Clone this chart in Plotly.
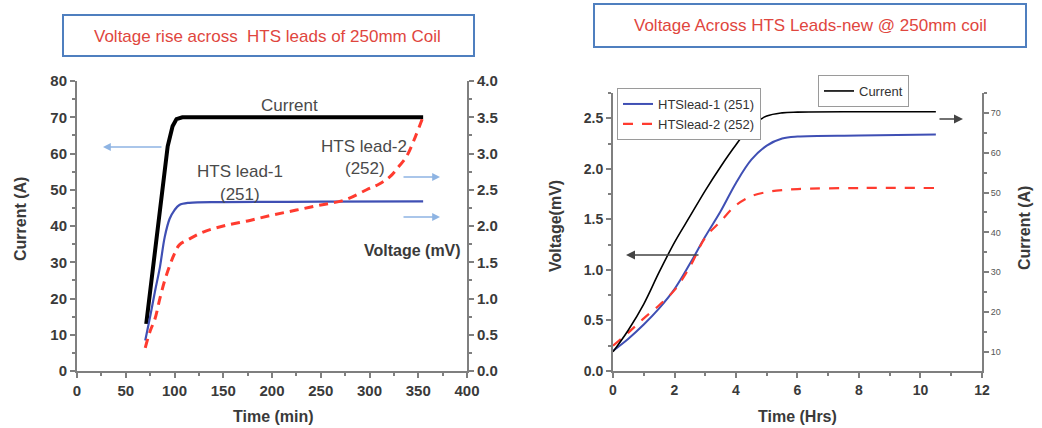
import plotly.graph_objects as go

# ---------------- Left chart data (Time in min) ----------------
left_cur_t = [71, 78, 86, 93, 98, 102, 108, 150, 250, 355]
left_cur_i = [13, 28, 45, 62, 67.5, 69.5, 70, 70, 70, 70]

left_l1_t = [70, 75, 80, 85, 90, 95, 100, 105, 115, 150, 250, 355]
left_l1_v = [0.42, 0.75, 1.1, 1.43, 1.85, 2.1, 2.22, 2.29, 2.32, 2.33, 2.335, 2.34]

left_l2_t = [70, 75, 80, 85, 90, 95, 100, 105, 115, 130, 150, 175, 200, 225, 250,
             275, 297, 310, 321, 330, 338, 347, 355]
left_l2_v = [0.32, 0.55, 0.72, 1.0, 1.25, 1.45, 1.62, 1.74, 1.82, 1.92, 2.0, 2.07, 2.15,
             2.22, 2.29, 2.36, 2.5, 2.58, 2.68, 2.82, 2.96, 3.23, 3.51]

# ---------------- Right chart data (Time in hours) ----------------
right_t = [0, 0.5, 1.0, 1.5, 2.0, 2.5, 3.0, 3.5, 4.0, 4.5, 5.0, 5.5, 6.0, 8.0, 10.5]
right_cur = [10, 15.5, 22, 30, 37.5, 44, 50.5, 56.5, 62, 66.8, 69.2, 70, 70.2, 70.3, 70.3]
right_l1 = [0.20, 0.32, 0.46, 0.62, 0.81, 1.06, 1.33, 1.58, 1.86, 2.09, 2.23, 2.30, 2.32, 2.33, 2.34]
right_l2 = [0.25, 0.38, 0.52, 0.65, 0.80, 1.03, 1.32, 1.48, 1.64, 1.73, 1.77, 1.79, 1.80, 1.81, 1.81]

left_x_ticks = [0, 50, 100, 150, 200, 250, 300, 350, 400]
left_y_ticks = [0, 10, 20, 30, 40, 50, 60, 70, 80]
left_y2_ticks = [0, 0.5, 1.0, 1.5, 2.0, 2.5, 3.0, 3.5, 4.0]
right_x_ticks = [0, 2, 4, 6, 8, 10, 12]
right_y_ticks = [0, 0.5, 1.0, 1.5, 2.0, 2.5]
right_y2_ticks = [10, 20, 30, 40, 50, 60, 70]

BLUE = "#3f4fb4"
RED = "#ff3b2f"
AXC = "#7f7f7f"
TXT = "#3a3a3a"
FONT = "Liberation Sans"

fig = go.Figure()

# Left chart traces
fig.add_trace(go.Scatter(x=left_cur_t, y=left_cur_i, mode="lines", line=dict(color="black", width=4),
                         xaxis="x", yaxis="y", showlegend=False, name="Current"))
fig.add_trace(go.Scatter(x=left_l1_t, y=left_l1_v, mode="lines", line=dict(color=BLUE, width=2.2, shape="spline"),
                         xaxis="x", yaxis="y2", showlegend=False, name="HTS lead-1"))
fig.add_trace(go.Scatter(x=left_l2_t, y=left_l2_v, mode="lines",
                         line=dict(color=RED, width=3, dash="9px,6px", shape="spline"),
                         xaxis="x", yaxis="y2", showlegend=False, name="HTS lead-2"))

# Right chart traces
fig.add_trace(go.Scatter(x=right_t, y=right_l1, mode="lines", line=dict(color=BLUE, width=2, shape="spline"),
                         xaxis="x2", yaxis="y3", name="HTSlead-1 (251)", legend="legend2"))
fig.add_trace(go.Scatter(x=right_t, y=right_l2, mode="lines",
                         line=dict(color=RED, width=2.2, dash="10px,9px", shape="spline"),
                         xaxis="x2", yaxis="y3", name="HTSlead-2 (252)", legend="legend2"))
fig.add_trace(go.Scatter(x=right_t, y=right_cur, mode="lines", line=dict(color="black", width=1.6, shape="spline"),
                         xaxis="x2", yaxis="y4", name="Current", legend="legend"))

common = dict(showline=True, linecolor=AXC, linewidth=2, ticks="outside", tickcolor=AXC,
              ticklen=5, tickwidth=1.5, showgrid=False, zeroline=False)

tick_left = dict(family=FONT, size=15, color=TXT, weight="bold")
tick_right = dict(family=FONT, size=14, color=TXT, weight="bold")
axtitle = dict(family=FONT, size=16, color=TXT, weight="bold")

fig.update_layout(
    width=1042, height=428,
    margin=dict(l=0, r=0, t=0, b=0, autoexpand=False),
    paper_bgcolor="white", plot_bgcolor="white",
    xaxis=dict(domain=[0.0739, 0.4482], range=[0, 400], tickvals=left_x_ticks, anchor="y",
               tickfont=tick_left, minor=dict(ticks="outside", dtick=25, ticklen=3, tickcolor=AXC), **common),
    yaxis=dict(domain=[0.1332, 0.8107], range=[0, 80], tickvals=left_y_ticks, anchor="x",
               tickfont=tick_left, minor=dict(ticks="outside", dtick=5, ticklen=3, tickcolor=AXC), **common),
    yaxis2=dict(range=[0, 4], tickvals=left_y2_ticks, tickformat=".1f", overlaying="y", side="right",
                anchor="x", tickfont=tick_left,
                minor=dict(ticks="outside", dtick=0.25, ticklen=3, tickcolor=AXC), **common),
    xaxis2=dict(domain=[0.5883, 0.9424], range=[0, 12], tickvals=right_x_ticks, anchor="y3",
                tickfont=tick_right, minor=dict(ticks="outside", dtick=1, ticklen=3, tickcolor=AXC), **common),
    yaxis3=dict(domain=[0.1332, 0.7827], range=[0, 2.75], tickvals=right_y_ticks, tickformat=".1f",
                anchor="x2", tickfont=tick_right,
                minor=dict(ticks="outside", dtick=0.25, ticklen=3, tickcolor=AXC), **common),
    yaxis4=dict(range=[5.2, 75], tickvals=right_y2_ticks, overlaying="y3", side="right", anchor="x2",
                tickfont=dict(family=FONT, size=9, color="#555"),
                minor=dict(ticks="outside", dtick=5, ticklen=3, tickcolor=AXC), **common),
    legend=dict(x=818/1042, y=1-75/428, xanchor="left", yanchor="top", bordercolor="#9a9a9a", borderwidth=1,
                bgcolor="white", font=dict(family=FONT, size=13, color="#333"),
                itemwidth=30, tracegroupgap=0),
    legend2=dict(x=617/1042, y=1-88/428, xanchor="left", yanchor="top", bordercolor="#9a9a9a", borderwidth=1,
                 bgcolor="white", font=dict(family=FONT, size=13, color="#333"),
                 itemwidth=30, tracegroupgap=0),
)

# Title boxes
fig.add_shape(type="rect", xref="paper", yref="paper",
              x0=63/1042, x1=474/1042, y0=1-56/428, y1=1-15/428,
              line=dict(color="#4f7fbf", width=2), fillcolor="white")
fig.add_shape(type="rect", xref="paper", yref="paper",
              x0=594/1042, x1=1026/1042, y0=1-47/428, y1=1-4/428,
              line=dict(color="#4f7fbf", width=2), fillcolor="white")

ann = []


def txt(px, py, text, font, angle=0, xanchor="center"):
    ann.append(dict(x=px/1042, y=1-py/428, xref="paper", yref="paper", showarrow=False,
                    text=text, font=font, textangle=angle, xanchor=xanchor, yanchor="middle"))


title_font = dict(family=FONT, size=17, color="#e0463e")
txt(267, 36, "Voltage rise across  HTS leads of 250mm Coil", title_font)
txt(810, 26, "Voltage Across HTS Leads-new @ 250mm coil", title_font)

# Left chart text annotations
lab = dict(family=FONT, size=17, color="#4a4a4a")
txt(289, 106, "Current", lab)
txt(240, 172, "HTS lead-1", lab)
txt(240, 194, "(251)", lab)
txt(364, 146, "HTS lead-2", lab)
txt(365, 168, "(252)", lab)
txt(463, 250, "Voltage (mV)", axtitle, xanchor="right")
txt(20, 219, "Current (A)", axtitle, angle=-90)
txt(273, 416, "Time (min)", axtitle)

# Right chart axis titles
txt(555, 226, "Voltage(mV)", axtitle, angle=-90)
txt(1025, 228, "Current (A)", axtitle, angle=-90)
txt(797, 416, "Time (Hrs)", axtitle)

# Arrows (left chart, light blue): head (hx, hy), tail (tx, ty) in pixels
LB = "#8eb4e3"
for (hx, hy, tx, ty) in [(103, 147, 163, 147), (440, 177, 402, 177), (440, 217, 402, 217)]:
    ann.append(dict(x=hx/1042, y=1-hy/428, ax=tx-hx, ay=ty-hy, xref="paper", yref="paper",
                    axref="pixel", ayref="pixel", showarrow=True, text="",
                    arrowhead=2, arrowsize=1.2, arrowwidth=1.3, arrowcolor=LB))
# Arrows (right chart, dark gray)
for (hx, hy, tx, ty) in [(963, 119, 938, 119), (626, 255, 700, 255)]:
    ann.append(dict(x=hx/1042, y=1-hy/428, ax=tx-hx, ay=ty-hy, xref="paper", yref="paper",
                    axref="pixel", ayref="pixel", showarrow=True, text="",
                    arrowhead=2, arrowsize=1.2, arrowwidth=1.5, arrowcolor="#444"))

fig.update_layout(annotations=ann)

fig.write_html("out.html",
               post_script="document.body.style.margin='0';document.body.style.padding='0';"
                           "document.documentElement.style.overflow='hidden';")
